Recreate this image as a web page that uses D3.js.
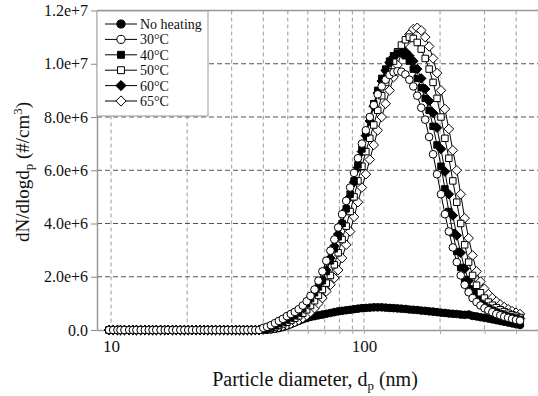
<!DOCTYPE html>
<html><head><meta charset="utf-8">
<script src="https://cdn.jsdelivr.net/npm/d3@7"></script>
<style>
body{margin:0;background:#fff;}
svg{display:block;font-family:"Liberation Serif","Times New Roman","DejaVu Serif",serif;}
</style>
</head><body>
<svg id="c" width="538" height="396"></svg>
<script>
// Particle diameters (nm), SMPS channels
const diameters = [9.82,10.2,10.6,10.9,11.3,11.8,12.2,12.6,13.1,13.6,
14.1,14.6,15.1,15.7,16.3,16.8,17.5,18.1,18.8,19.5,
20.2,20.9,21.7,22.5,23.3,24.1,25.0,25.9,26.9,27.9,
28.9,30.0,31.1,32.2,33.4,34.6,35.9,37.2,38.5,40.0,
41.4,42.9,44.5,46.1,47.8,49.6,51.4,53.3,55.2,57.3,
59.4,61.5,63.8,66.1,68.5,71.0,73.7,76.4,79.1,82.0,
85.1,88.2,91.4,94.7,98.2,101.8,105.5,109.4,113.4,117.6,
121.9,126.3,131.0,135.8,140.7,145.9,151.2,156.8,162.5,168.5,
174.7,181.1,187.7,194.6,201.7,209.1,216.7,224.7,232.9,241.4,
250.3,259.5,269.0,278.8,289.0,299.6,310.6,322.0,333.8,346.0,
358.7,371.8,385.4,399.5,414.2];

// dN/dlogdp values in units of 1e6 #/cm3
const noHeating = [0,0,0,0,0,0,0,0,0,0,
0,0,0,0,0,0,0,0,0,0,
0,0,0,0,0,0,0,0,0,0,
0,0,0,0,0,0,0,0,0,0.0,
0.01,0.02,0.04,0.07,0.11,0.16,0.22,0.28,0.34,0.4,
0.45,0.49,0.52,0.55,0.58,0.61,0.64,0.67,0.7,0.72,
0.74,0.76,0.78,0.8,0.82,0.83,0.84,0.85,0.85,0.85,
0.84,0.83,0.82,0.81,0.8,0.79,0.77,0.76,0.75,0.73,
0.72,0.7,0.69,0.67,0.65,0.64,0.62,0.61,0.6,0.58,
0.57,0.58,0.53,0.51,0.48,0.46,0.43,0.4,0.37,0.34,
0.31,0.28,0.25,0.22,0.19];
const heat30 = [0,0,0,0,0,0,0,0,0,0,
0,0,0,0,0,0,0,0,0,0,
0,0,0,0,0,0,0,0,0,0,
0,0,0,0,0,0,0,0,0,0.08,
0.12,0.18,0.26,0.34,0.42,0.52,0.6,0.68,0.78,0.92,
1.08,1.28,1.52,1.85,2.2,2.6,2.98,3.4,3.85,4.35,
4.85,5.35,5.9,6.45,7.0,7.5,8.0,8.45,8.85,9.15,
9.4,9.58,9.68,9.72,9.7,9.6,9.4,9.15,8.8,8.35,
7.9,7.25,6.6,5.85,5.1,4.35,3.7,3.1,2.55,2.05,
1.7,1.42,1.2,1.05,0.92,0.82,0.74,0.67,0.6,0.55,
0.5,0.46,0.42,0.38,0.35];
const heat40 = [0,0,0,0,0,0,0,0,0,0,
0,0,0,0,0,0,0,0,0,0,
0,0,0,0,0,0,0,0,0,0,
0,0,0,0,0,0,0,0,0,0.05,
0.08,0.12,0.18,0.25,0.32,0.4,0.48,0.56,0.66,0.8,
0.98,1.18,1.4,1.62,1.85,2.2,2.6,3.05,3.5,4.0,
4.55,5.1,5.6,6.2,6.8,7.4,7.95,8.5,9.0,9.45,
9.8,10.1,10.3,10.4,10.4,10.3,10.1,9.8,9.45,9.1,
8.7,8.25,7.65,6.95,6.15,5.3,4.45,3.65,2.95,2.35,
1.9,1.55,1.3,1.12,1.0,0.9,0.82,0.74,0.67,0.61,
0.56,0.51,0.47,0.43,0.4];
const heat50 = [0,0,0,0,0,0,0,0,0,0,
0,0,0,0,0,0,0,0,0,0,
0,0,0,0,0,0,0,0,0,0,
0,0,0,0,0,0,0,0,0,0.03,
0.05,0.08,0.12,0.17,0.23,0.29,0.36,0.44,0.53,0.63,
0.76,0.92,1.1,1.3,1.52,1.76,2.05,2.45,2.9,3.4,
3.9,4.45,5.0,5.6,6.15,6.7,7.2,7.7,8.25,8.8,
9.3,9.7,10.1,10.45,10.7,10.9,11.0,10.95,10.8,10.55,
10.2,9.8,9.3,8.7,8.0,7.2,6.45,5.6,4.8,4.0,
3.2,2.55,2.05,1.68,1.4,1.2,1.05,0.93,0.84,0.76,
0.69,0.63,0.57,0.52,0.47];
const heat60 = [0,0,0,0,0,0,0,0,0,0,
0,0,0,0,0,0,0,0,0,0,
0,0,0,0,0,0,0,0,0,0,
0,0,0,0,0,0,0,0,0,0.04,
0.06,0.1,0.15,0.21,0.28,0.35,0.43,0.51,0.6,0.72,
0.88,1.08,1.32,1.6,1.88,2.25,2.7,3.15,3.6,4.0,
4.5,5.0,5.55,6.1,6.7,7.3,7.85,8.4,8.9,9.35,
9.75,10.05,10.25,10.4,10.5,10.45,10.3,10.1,9.8,9.45,
9.05,8.6,8.15,7.6,6.8,5.95,5.1,4.3,3.55,2.9,
2.3,1.85,1.5,1.28,1.12,1.0,0.9,0.81,0.73,0.66,
0.6,0.55,0.5,0.46,0.43];
const heat65 = [0,0,0,0,0,0,0,0,0,0,
0,0,0,0,0,0,0,0,0,0,
0,0,0,0,0,0,0,0,0,0,
0,0,0,0,0,0,0,0,0,0.02,
0.03,0.05,0.08,0.11,0.15,0.19,0.24,0.3,0.37,0.45,
0.55,0.67,0.82,1.0,1.2,1.45,1.7,1.95,2.25,2.7,
3.2,3.7,4.25,4.8,5.35,5.85,6.4,6.95,7.5,8.0,
8.5,9.0,9.5,9.95,10.4,10.8,11.1,11.3,11.35,11.25,
11.0,10.65,10.2,9.65,9.0,8.3,7.55,6.75,6.0,5.1,
4.2,3.45,2.8,2.2,1.82,1.55,1.35,1.2,1.07,0.96,
0.86,0.78,0.71,0.65,0.6];

const seriesNames = ["No heating","30°C","40°C","50°C","60°C","65°C"];
const seriesValues = [noHeating, heat30, heat40, heat50, heat60, heat65];
const UNIT = 1e6;

const yTicks = [0, 2e6, 4e6, 6e6, 8e6, 1e7, 1.2e7];
const yTickLabels = ["0.0","2.0e+6","4.0e+6","6.0e+6","8.0e+6","1.0e+7","1.2e+7"];
const xTicks = [10, 100];
const xTickLabels = ["10", "100"];
const xGrid = [10,20,30,40,50,60,70,80,90,100,200,300,400];

const FONT = '"Liberation Serif","Times New Roman","DejaVu Serif",serif';
const svg = d3.select("#c");
const x = d3.scaleLog().domain([8.8, 488]).range([97, 538]);
const y = d3.scaleLinear().domain([0, 1.2e7]).range([330, 10.5]);

// grid
svg.append("g").selectAll("line").data(xGrid).join("line")
  .attr("x1", d => x(d)).attr("x2", d => x(d))
  .attr("y1", y(1.2e7)).attr("y2", y(0))
  .attr("stroke", "#9a9a9a").attr("stroke-width", 1)
  .attr("stroke-dasharray", "4,3");
svg.append("g").selectAll("line").data(yTicks.slice(1, -1)).join("line")
  .attr("x1", x.range()[0]).attr("x2", x.range()[1])
  .attr("y1", d => y(d)).attr("y2", d => y(d))
  .attr("stroke", "#555").attr("stroke-width", 1)
  .attr("stroke-dasharray", "5,3");

// top border
svg.append("line").attr("x1", x.range()[0]).attr("x2", x.range()[1])
  .attr("y1", y(1.2e7)).attr("y2", y(1.2e7))
  .attr("stroke", "#999").attr("stroke-width", 1.5);

// axes
const yAxis = svg.append("g").attr("transform", `translate(${x.range()[0]},0)`)
  .call(d3.axisLeft(y).tickValues(yTicks).tickFormat((d, i) => yTickLabels[i]).tickSize(6).tickSizeOuter(0));
yAxis.attr("font-family", FONT);
yAxis.select(".domain").attr("stroke", "#999").attr("stroke-width", 1.5);
yAxis.selectAll(".tick line").attr("stroke", "#888");
yAxis.selectAll("text").attr("font-family", FONT).attr("font-size", 16).attr("fill", "#111");

const xAxis = svg.append("g").attr("transform", `translate(0,${y(0)})`)
  .call(d3.axisBottom(x).tickValues(xGrid).tickFormat(d => {
    const k = xTicks.indexOf(d); return k >= 0 ? xTickLabels[k] : "";
  }).tickSize(4).tickSizeOuter(0));
xAxis.attr("font-family", FONT);
xAxis.select(".domain").attr("stroke", "#999").attr("stroke-width", 1.5);
xAxis.selectAll(".tick line").attr("stroke", "#aaa");
xAxis.selectAll("text").attr("font-family", FONT).attr("font-size", 17).attr("fill", "#111")
  .attr("y", 10);

// symbols
const diamond = { draw(ctx, size) { const r = Math.sqrt(size / 2);
  ctx.moveTo(0, -r); ctx.lineTo(r, 0); ctx.lineTo(0, r); ctx.lineTo(-r, 0); ctx.closePath(); } };
const symTypes = [d3.symbolCircle, d3.symbolCircle, d3.symbolSquare, d3.symbolSquare, diamond, diamond];
const symFill = ["#000", "#fff", "#000", "#fff", "#000", "#fff"];
const symSize = [46, 46, 42, 42, 46, 46];

const line = d3.line().x(d => x(d.d)).y(d => y(d.v * UNIT));
const drawOrder = [0, 5, 4, 3, 2, 1];
drawOrder.forEach(s => {
  const pts = diameters.map((d, i) => ({ d, v: seriesValues[s][i] }));
  const g = svg.append("g");
  g.append("path").attr("d", line(pts)).attr("fill", "none").attr("stroke", "#000").attr("stroke-width", 1);
  g.selectAll("path.m").data(pts).join("path").attr("class", "m")
    .attr("transform", d => `translate(${x(d.d)},${y(d.v * UNIT)})`)
    .attr("d", d3.symbol().type(symTypes[s]).size(symSize[s]))
    .attr("fill", symFill[s]).attr("stroke", "#000").attr("stroke-width", 1);
});

// legend
const lg = svg.append("g").attr("font-family", FONT);
lg.append("rect").attr("x", 97).attr("y", 11).attr("width", 111).attr("height", 105)
  .attr("fill", "#fff").attr("stroke", "#999").attr("stroke-width", 1);
seriesNames.forEach((name, i) => {
  const yy = 24 + i * 15.4;
  lg.append("line").attr("x1", 105).attr("x2", 137).attr("y1", yy).attr("y2", yy)
    .attr("stroke", "#000").attr("stroke-width", 1);
  lg.append("path").attr("transform", `translate(121,${yy})`)
    .attr("d", d3.symbol().type(symTypes[i]).size(symSize[i] + 6))
    .attr("fill", symFill[i]).attr("stroke", "#000").attr("stroke-width", 1);
  lg.append("text").attr("x", 140).attr("y", yy + 5).attr("font-size", 14).attr("fill", "#111").text(name);
});

// axis titles
const xt = svg.append("text").attr("x", 315).attr("y", 386).attr("text-anchor", "middle")
  .attr("font-family", FONT).attr("font-size", 20).attr("fill", "#111");
xt.append("tspan").text("Particle diameter, d");
xt.append("tspan").attr("font-size", 13).attr("dy", 4).text("p");
xt.append("tspan").attr("dy", -4).text(" (nm)");

const yt = svg.append("text").attr("transform", "translate(29,172) rotate(-90)")
  .attr("text-anchor", "middle").attr("font-family", FONT).attr("font-size", 19).attr("fill", "#111");
yt.append("tspan").text("dN/dlogd");
yt.append("tspan").attr("font-size", 13).attr("dy", 4).text("p");
yt.append("tspan").attr("dy", -4).text(" (#/cm");
yt.append("tspan").attr("font-size", 13).attr("dy", -7).text("3");
yt.append("tspan").attr("dy", 7).text(")");
</script>
</body></html>
